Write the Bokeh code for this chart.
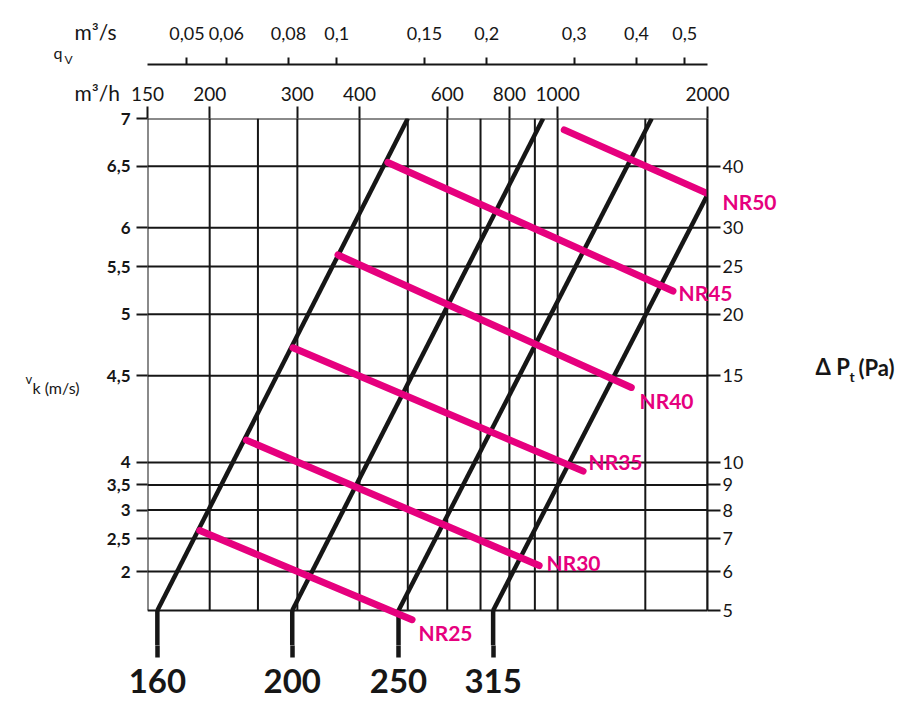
import numpy as np
from bokeh.plotting import figure
from bokeh.models import Range1d, LogAxis, FixedTicker, LogScale, Label
from bokeh.embed import file_html
from bokeh.resources import INLINE

# ---------------- data ----------------
# flow-rate grid (m3/h) and pressure grid (Pa)
q_grid = [150, 200, 250, 300, 400, 500, 600, 700, 800, 900, 1000, 1500, 2000]
p_grid = [5, 6, 7, 8, 9, 10, 15, 20, 25, 30, 40, 50]

# top axis m3/h
qh_ticks = [150, 200, 300, 400, 600, 800, 1000, 2000]
qh_labels = ["150", "200", "300", "400", "600", "800", "1000", "2000"]
# top axis m3/s
qs_ticks = [0.05, 0.06, 0.08, 0.1, 0.15, 0.2, 0.3, 0.4, 0.5]
qs_labels = ["0,05", "0,06", "0,08", "0,1", "0,15", "0,2", "0,3", "0,4", "0,5"]
# right axis: total pressure drop (Pa)
p_ticks = [5, 6, 7, 8, 9, 10, 15, 20, 25, 30, 40]
p_labels = ["5", "6", "7", "8", "9", "10", "15", "20", "25", "30", "40"]
# left axis: duct velocity v_k (m/s), printed on the pressure grid lines
vk_pos = [6, 7, 8, 9, 10, 15, 20, 25, 30, 40, 50]
vk_labels = ["2", "2,5", "3", "3,5", "4", "4,5", "5", "5,5", "6", "6,5", "7"]

# duct diameter lines (mm): flow at 5 Pa and at the upper end
diameters = ["160", "200", "250", "315"]
d_q_low = [157, 293, 479, 742]
d_q_high = [500, 935, 1545, 2000]
d_p_high = [50, 50, 50, 35]

# noise rating lines
nr_names = ["NR25", "NR30", "NR35", "NR40", "NR45", "NR50"]
nr_q0 = [191, 237, 294, 362, 456, 1031]
nr_p0 = [7.27, 11.1, 17.1, 26.4, 40.7, 47.4]
nr_q1 = [510, 918, 1125, 1406, 1705, 2104]
nr_p1 = [4.79, 6.17, 9.6, 14.2, 22.3, 34.4]

# ---------------- geometry ----------------
FL, FW = 147, 560          # frame left, frame width (px)
FT, FH = 118, 527          # frame top, frame height (px)
PXY = 492.0                # px per decade of pressure
PXX = FW / np.log10(2000 / 150)
Y_LO = 50 * 10 ** (-FH / PXY)

def q_at(px):              # page x (px) -> m3/h, for text placement
    return 150 * 10 ** ((px - FL) / PXX)

def p_at(py):              # page y (px) -> Pa, for text placement
    return 50 * 10 ** ((FT - py) / PXY)

INK = "#161616"
PINK = "#e6007e"
FONT = "Lato"

p = figure(frame_width=FW, frame_height=FH, x_axis_type="log", y_axis_type="log",
           x_range=Range1d(150, 2000), y_range=Range1d(Y_LO, 50),
           x_axis_location="above", y_axis_location="left",
           output_backend="svg", toolbar_location=None,
           min_border_left=FL, min_border_right=205,
           min_border_top=FT, min_border_bottom=56)
p.outline_line_color = None
p.xgrid.visible = False
p.ygrid.visible = False
p.extra_x_ranges = {"qs": Range1d(150 / 3600, 2000 / 3600)}
p.extra_x_scales = {"qs": LogScale()}

xa = p.above[0]
ya = p.left[0]

# grid
p.segment(x0=q_grid, y0=[5] * len(q_grid), x1=q_grid, y1=[50] * len(q_grid),
          line_color=INK, line_width=2)
p.segment(x0=[150] * len(p_grid), y0=p_grid, x1=[2000] * len(p_grid), y1=p_grid,
          line_color=INK, line_width=2)

# diameter lines and their stubs below the 5 Pa line
p.segment(x0=d_q_low, y0=[5] * len(d_q_low), x1=d_q_high, y1=d_p_high,
          line_color=INK, line_width=4.5)
p.segment(x0=d_q_low, y0=[5] * len(d_q_low), x1=d_q_low, y1=[Y_LO] * len(d_q_low),
          line_color=INK, line_width=4.5)

# noise rating lines
p.segment(x0=nr_q0, y0=nr_p0, x1=nr_q1, y1=nr_p1, line_color=PINK,
          line_width=7, line_cap="round")

# ---------------- axes ----------------
def style(ax, size, bold=False, color=INK):
    ax.minor_tick_line_color = None
    ax.major_label_text_font = FONT
    ax.major_label_text_font_size = size
    ax.major_label_text_font_style = "bold" if bold else "normal"
    ax.major_label_text_color = color

xa.ticker = FixedTicker(ticks=qh_ticks)
xa.major_label_overrides = dict(zip(qh_ticks, qh_labels))
xa.axis_line_color = None
xa.major_tick_out = 12
xa.major_tick_in = 0
xa.major_tick_line_width = 2
xa.major_tick_line_color = INK
xa.major_label_standoff = 6
style(xa, "19px")

ya.ticker = FixedTicker(ticks=vk_pos)
ya.major_label_overrides = dict(zip(vk_pos, vk_labels))
ya.axis_line_color = None
ya.major_tick_out = 11
ya.major_tick_in = 0
ya.major_tick_line_width = 2
ya.major_tick_line_color = INK
ya.major_label_standoff = 6
style(ya, "17px", bold=True)

ra = LogAxis(ticker=FixedTicker(ticks=p_ticks), bounds=(5, 50),
             major_label_overrides=dict(zip(p_ticks, p_labels)),
             axis_line_color=INK, axis_line_width=2,
             major_tick_line_color=INK, major_tick_line_width=2,
             major_tick_out=13, major_tick_in=0, major_label_standoff=2)
style(ra, "18px")
p.add_layout(ra, "right")

# diameter scale below the frame
da = LogAxis(ticker=FixedTicker(ticks=d_q_low),
             major_label_overrides=dict(zip(d_q_low, diameters)),
             axis_line_color=None, major_tick_line_color=INK,
             major_tick_line_width=4.5, major_tick_out=12, major_tick_in=0,
             major_label_standoff=11)
style(da, "33px", bold=True)
p.add_layout(da, "below")

# free texts (left edge px, middle py); 'side' only reserves room in a border
def text(px, py, s, size, side="center", bold=False, color=INK, lh=1.2):
    lab = Label(x=q_at(px), y=p_at(py), text=s, text_color=color,
                text_font=FONT, text_font_size=size, text_line_height=lh,
                text_font_style="bold" if bold else "normal",
                text_align="left", text_baseline="middle")
    p.add_layout(lab, side)

# noise rating names
text(418, 632, "NR25", "21px", bold=True, color=PINK)
text(546, 562, "NR30", "21px", bold=True, color=PINK)
text(588, 461, "NR35", "21px", bold=True, color=PINK)
text(639, 400, "NR40", "21px", bold=True, color=PINK)

# velocity title (its room also separates the two flow scales)
text(32, 387, "k (m/s)", "16px", side="above")

# outer m3/s axis
sa = LogAxis(x_range_name="qs", ticker=FixedTicker(ticks=qs_ticks),
             major_label_overrides=dict(zip(qs_ticks, qs_labels)),
             axis_line_color=INK, axis_line_width=2,
             major_tick_line_color=INK, major_tick_line_width=2,
             major_tick_out=7, major_tick_in=0, major_label_standoff=18)
style(sa, "18px")
p.add_layout(sa, "above")

text(74, 61, "m³/s\n\nm³/h", "21px", side="left", lh=1.22)
text(815, 366, "Δ P", "22px", side="left", bold=True)
text(25, 378, "v", "13px", side="left")

text(722, 201, "NR50", "21px", side="right", bold=True, color=PINK)
text(678, 292, "NR45", "21px", side="right", bold=True, color=PINK)
text(849, 376, "t", "14px", side="right", bold=True)
text(858, 367, "(Pa)", "22px", side="right", bold=True)
text(53, 52, "q", "16px", side="right")
text(64, 59, "V", "12px", side="right")

open("out.html", "w").write(file_html(p, INLINE))
